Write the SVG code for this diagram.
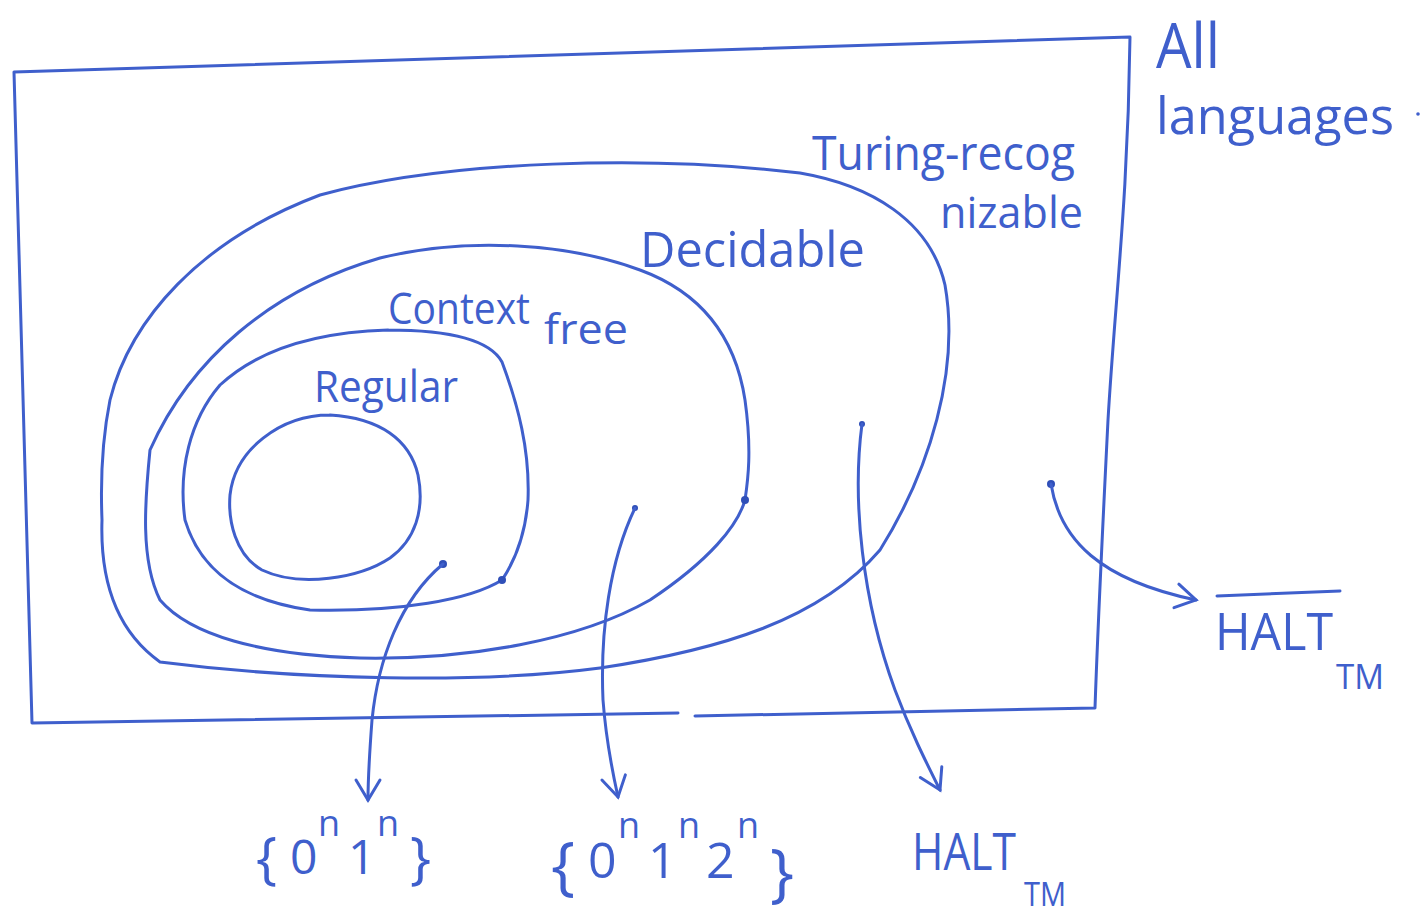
<svg xmlns="http://www.w3.org/2000/svg" width="1425" height="917" viewBox="0 0 1425 917">
<style>
.ln{fill:none;stroke:#3f5fcc;stroke-width:3;stroke-linecap:round;stroke-linejoin:round}
.t{fill:#3f5fcc;font-family:"Open Sans","Liberation Sans",sans-serif;font-weight:400}
</style>
<defs>
<marker id="ahb" markerWidth="30" markerHeight="30" refX="24" refY="15" orient="auto" markerUnits="userSpaceOnUse" viewBox="0 0 30 30">
<path d="M4,3 L24,15 L4,27" fill="none" stroke="#3f5fcc" stroke-width="3" stroke-linecap="round"/>
</marker>
</defs>
<rect width="1425" height="917" fill="#ffffff"/>
<g id="all-languages">
<path class="ln" d="M14,72 L1130,37 M1130,37 C1128,200 1115,300 1108,420 C1102,540 1098,620 1095,708 L695,716 M678,713 L32,723 L14,72"/>
<text class="t" x="1156" y="68" font-size="62" textLength="64" lengthAdjust="spacingAndGlyphs">All</text>
<text class="t" x="1156" y="134" font-size="52" textLength="238" lengthAdjust="spacingAndGlyphs">languages</text>
<circle cx="1418" cy="114" r="1.8" fill="#3f5fcc"/>
</g>
<g id="turing-recognizable">
<path class="ln" d="M800,173 C870,185 930,220 945,285 C960,370 930,470 880,550 C820,620 720,650 600,668 C480,684 300,680 160,662 C115,630 100,580 102,520 C100,470 104,430 110,400 C130,320 200,240 320,195 C450,160 650,155 800,173"/>
<text class="t" x="812" y="170" font-size="48" textLength="263" lengthAdjust="spacingAndGlyphs">Turing-recog</text>
<text class="t" x="940" y="228" font-size="44" textLength="143" lengthAdjust="spacingAndGlyphs">nizable</text>
</g>
<g id="decidable">
<path class="ln" d="M640,270 C700,292 735,335 745,400 C752,450 748,480 745,500 C738,525 710,560 650,600 C580,640 470,660 360,658 C260,655 190,635 160,600 C140,560 145,500 150,450 C190,360 270,290 380,258 C470,236 570,244 640,270"/>
<circle cx="745" cy="500" r="4" fill="#2f4fb8"/>
<text class="t" x="640" y="267" font-size="50" textLength="225" lengthAdjust="spacingAndGlyphs">Decidable</text>
</g>
<g id="context-free">
<path class="ln" d="M388,330 C450,330 490,340 502,362 C518,405 530,450 528,500 C525,540 512,565 502,580 C470,600 400,612 310,610 C240,600 200,570 185,520 C178,470 190,420 220,385 C260,348 320,332 388,330"/>
<circle cx="502" cy="580" r="4" fill="#2f4fb8"/>
<text class="t" x="388" y="324" font-size="44" textLength="142" lengthAdjust="spacingAndGlyphs">Context</text>
<text class="t" x="544" y="344" font-size="42" textLength="84" lengthAdjust="spacingAndGlyphs">free</text>
</g>
<g id="regular">
<path class="ln" d="M330,415 C380,418 410,440 418,475 C425,510 415,540 390,558 C360,578 300,588 262,570 C235,555 228,520 230,495 C235,450 280,415 330,415"/>
<text class="t" x="314" y="402" font-size="44" textLength="144" lengthAdjust="spacingAndGlyphs">Regular</text>
</g>
<g id="label-0n1n">
<text class="t" font-size="56"><tspan x="256" y="878">{</tspan><tspan x="410" y="878">}</tspan></text>
<text class="t" font-size="48"><tspan x="290" y="874">0</tspan><tspan x="348" y="874">1</tspan></text>
<text class="t" font-size="36"><tspan x="318" y="836">n</tspan><tspan x="377" y="836">n</tspan></text>
</g>
<g id="label-0n1n2n">
<text class="t" font-size="64"><tspan x="551" y="888">{</tspan><tspan x="770" y="895">}</tspan></text>
<text class="t" font-size="50"><tspan x="588" y="878">0</tspan><tspan x="648" y="878">1</tspan><tspan x="706" y="878">2</tspan></text>
<text class="t" font-size="36"><tspan x="618" y="838">n</tspan><tspan x="678" y="838">n</tspan><tspan x="737" y="838">n</tspan></text>
</g>
<g id="label-halt">
<text class="t" x="912" y="870" font-size="52" textLength="104" lengthAdjust="spacingAndGlyphs">HALT</text>
<text class="t" x="1024" y="906" font-size="32" textLength="42" lengthAdjust="spacingAndGlyphs">TM</text>
</g>
<g id="label-halt-complement">
<path class="ln" d="M1217,596 L1340,591"/>
<text class="t" x="1215" y="650" font-size="52" textLength="118" lengthAdjust="spacingAndGlyphs">HALT</text>
<text class="t" x="1336" y="689" font-size="34" textLength="48" lengthAdjust="spacingAndGlyphs">TM</text>
</g>
<g id="connectors">
<circle cx="443" cy="564" r="4" fill="#2f4fb8"/>
<path class="ln" d="M443,564 C400,600 378,660 372,720 C369,760 368,780 368,800" marker-end="url(#ahb)"/>
<circle cx="635" cy="508" r="3" fill="#2f4fb8"/>
<path class="ln" d="M635,508 C610,560 600,630 603,700 C606,740 612,770 618,797" marker-end="url(#ahb)"/>
<circle cx="862" cy="424" r="3" fill="#2f4fb8"/>
<path class="ln" d="M862,424 C852,500 862,600 895,690 C910,730 925,760 940,790" marker-end="url(#ahb)"/>
<circle cx="1051" cy="484" r="4" fill="#2f4fb8"/>
<path class="ln" d="M1051,484 C1060,540 1100,580 1196,600" marker-end="url(#ahb)"/>
</g>
</svg>
